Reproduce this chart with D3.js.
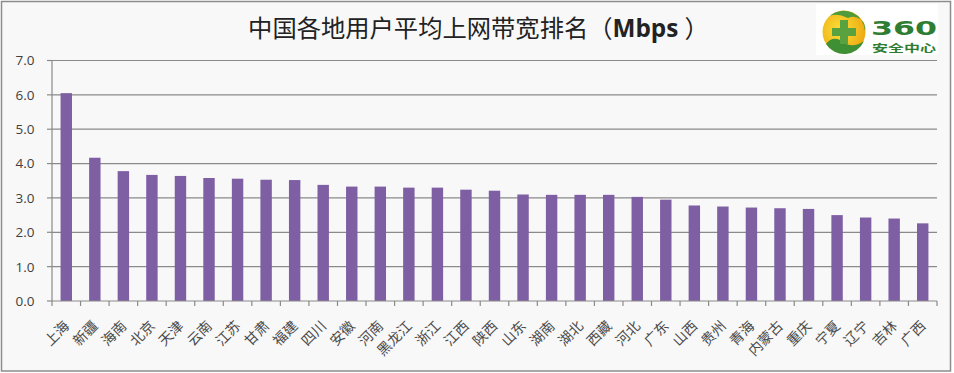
<!DOCTYPE html>
<html><head><meta charset="utf-8">
<script src="https://cdn.jsdelivr.net/npm/d3@7"></script>
<style>html,body{margin:0;padding:0;background:#fff}svg{display:block}</style>
</head><body><svg id="c" width="954" height="373"></svg>
<script>
const categories=["上海","新疆","海南","北京","天津","云南","江苏","甘肃","福建","四川","安徽","河南","黑龙江","浙江","江西","陕西","山东","湖南","湖北","西藏","河北","广东","山西","贵州","青海","内蒙古","重庆","宁夏","辽宁","吉林","广西"];
const values=[6.05,4.17,3.78,3.67,3.64,3.58,3.56,3.53,3.52,3.38,3.33,3.33,3.30,3.30,3.24,3.21,3.10,3.09,3.09,3.09,3.03,2.95,2.78,2.75,2.72,2.70,2.68,2.50,2.43,2.40,2.26];
const yTicks=[0,1,2,3,4,5,6,7];
const cjk='"Noto Sans CJK SC","Noto Sans",sans-serif';
const svg=d3.select("#c");
svg.append("rect").attr("x",1.5).attr("y",1.5).attr("width",949).attr("height",369.5).attr("fill","#f8f8f8").attr("stroke","#8c8c8c").attr("stroke-width",1.5);
const x=d3.scaleBand().domain(categories).range([52,937]).paddingInner(0.6).paddingOuter(0.3);
const y=d3.scaleLinear().domain([0,7]).range([301,60.5]);
svg.append("g").selectAll("line").data(yTicks.slice(1)).join("line")
 .attr("x1",52).attr("x2",937).attr("y1",d=>y(d)).attr("y2",d=>y(d)).attr("stroke","#8a8a8a").attr("stroke-width",1.2);
svg.append("g").selectAll("rect").data(values).join("rect")
 .attr("x",(d,i)=>x(categories[i])).attr("width",x.bandwidth()).attr("y",d=>y(d)).attr("height",d=>y(0)-y(d)).attr("fill","#7f5fa3");
const band=d3.scaleBand().domain(categories).range([52,937]);
const ax=svg.append("g").attr("stroke","#8a8a8a").attr("stroke-width",1.2).attr("fill","none");
ax.append("line").attr("x1",52).attr("x2",52).attr("y1",y(7)).attr("y2",y(0));
ax.append("line").attr("x1",52).attr("x2",937).attr("y1",y(0)).attr("y2",y(0));
ax.selectAll(".yt").data(yTicks).join("line").attr("class","yt").attr("x1",47).attr("x2",52).attr("y1",d=>y(d)).attr("y2",d=>y(d));
ax.selectAll(".xt").data(d3.range(32)).join("line").attr("class","xt").attr("x1",d=>52+d*band.step()).attr("x2",d=>52+d*band.step()).attr("y1",y(0)).attr("y2",y(0)+5);
svg.append("g").selectAll("text").data(yTicks).join("text")
 .attr("x",34.5).attr("y",d=>y(d)).attr("dy","0.36em").attr("text-anchor","end")
 .attr("font-family","'Open Sans',sans-serif").attr("font-size",13.5).attr("fill","#404040").text(d=>d.toFixed(1));
svg.append("g").selectAll("text").data(categories).join("text")
 .attr("text-anchor","end").attr("font-family",cjk).attr("font-size",14).attr("fill","#4a4a4a")
 .attr("transform",d=>`translate(${band(d)+band.step()/2-3},${320}) rotate(-45)`).attr("dy","0.7em").text(d=>d);
const t=svg.append("text").attr("x",478.5).attr("y",37).attr("text-anchor","middle").attr("font-family",cjk).attr("font-size",24.3).attr("fill","#222");
t.append("tspan").text("中国各地用户平均上网带宽排名（");
t.append("tspan").attr("font-family","'Open Sans',sans-serif").attr("font-weight","bold").text("Mbps ");
t.append("tspan").text("）");
// logo
const defs=svg.append("defs");
const g=defs.append("radialGradient").attr("id","ball").attr("cx","40%").attr("cy","45%").attr("r","60%");
g.append("stop").attr("offset","0%").attr("stop-color","#fbe23a");
g.append("stop").attr("offset","100%").attr("stop-color","#eeaa12");
const logo=svg.append("g");
logo.append("rect").attr("x",816).attr("y",4).attr("width",122).attr("height",51).attr("fill","#fff");
logo.append("circle").attr("cx",844).attr("cy",32).attr("r",21.5).attr("fill","url(#ball)");
logo.append("path").attr("d","M830 15.5 A21.5 21.5 0 0 1 865 31 A12 12 0 0 0 848 18 Q838 13 830 15.5 Z").attr("fill","#4f9a3a");
logo.append("path").attr("d","M826 44 A21.5 21.5 0 0 0 864 41 Q852 50 840 40 Q832 36 826 44 Z").attr("fill","#3f8f35");
logo.append("path").attr("d","M840 20h8v8h8v8h-8v8h-8v-8h-8v-8h8z").attr("fill","#5aa23f");
logo.append("text").attr("x",871).attr("y",35).attr("font-family","'DejaVu Sans',sans-serif").attr("font-weight","bold").attr("font-size",20).attr("fill","#2e7d32").attr("textLength",66).attr("lengthAdjust","spacingAndGlyphs").text("360");
logo.append("text").attr("x",872).attr("y",51.5).attr("font-family",cjk).attr("font-weight","bold").attr("font-size",10).attr("fill","#2e7d32").attr("textLength",64).attr("lengthAdjust","spacingAndGlyphs").text("安全中心");
</script></body></html>
